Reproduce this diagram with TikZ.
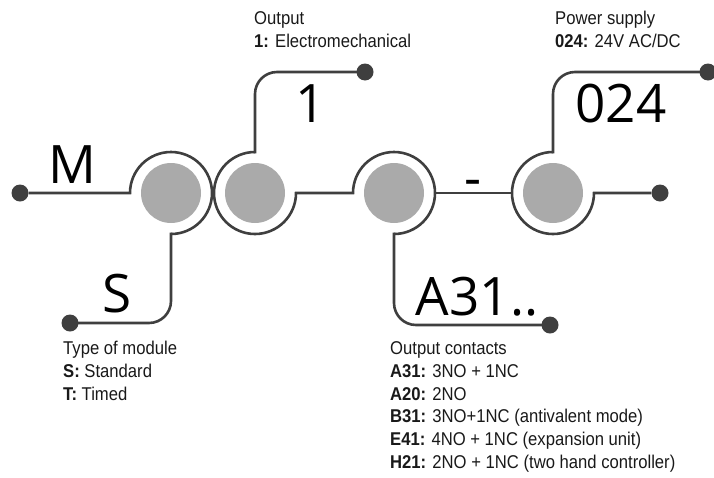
\documentclass[tikz,border=0pt]{standalone}
\usepackage{fontspec}
\setmainfont{Liberation Sans}[FakeStretch=0.9]
\newfontfamily\codefont{Open Sans}
\usepackage{tikz}
\usepackage{xcolor}

\definecolor{wiregrey}{HTML}{3F3F3F}
\definecolor{discgrey}{HTML}{AAAAAA}

\tikzset{
  wire/.style={draw=wiregrey, line width=2.6pt},
  leg/.style={wire, rounded corners=22pt, line cap=rect},
  dot/.style={circle, fill=wiregrey, inner sep=0pt, minimum size=17pt},
  ring/.style={circle, minimum size=82pt, inner sep=0pt, outer sep=0pt},
  code/.style={font=\codefont\fontsize{53}{60}\selectfont, inner sep=0pt, anchor=base},
  note/.style={font=\fontsize{18.5}{22.8}\selectfont, align=left, inner sep=0pt, anchor=base west, text=black!90}
}

\begin{document}
\begin{tikzpicture}[x=1pt, y=1pt]
  \useasboundingbox (0,0) rectangle (714,-477);

  % Rings
  \node[ring] (typ)  at (171,-193) {};
  \node[ring] (outp) at (255,-193) {};
  \node[ring] (cont) at (394,-193) {};
  \node[ring] (pwr)  at (553,-193) {};
  \foreach \r in {typ,outp,cont,pwr}
    \fill[discgrey] (\r) circle[radius=30pt];

  % Dots
  \node[dot] (mdot) at (20,-193) {};
  \node[dot] (sdot) at (70,-323) {};
  \node[dot] (odot) at (365,-72) {};
  \node[dot] (cdot) at (550,-325) {};
  \node[dot] (pdot) at (708,-72) {};
  \node[dot] (edot) at (660,-193) {};

  % Wires
  \draw[wire] (mdot) -- (typ.west) arc[start angle=180, end angle=-90, radius=41pt];
  \draw[wire] (outp.north) arc[start angle=90, end angle=360, radius=41pt] -- (cont.west)
    arc[start angle=180, end angle=-90, radius=41pt];
  \draw[wire] (cont.east) -- (pwr.west);
  \draw[wire] (pwr.north) arc[start angle=90, end angle=360, radius=41pt] -- (edot);

  % Legs
  \draw[leg] (typ.south) -- (typ.south |- sdot) -- (sdot);
  \draw[leg] (outp.north) -- (outp.north |- odot) -- (odot);
  \draw[leg] (cont.south) -- (cont.south |- cdot) -- (cdot);
  \draw[leg] (pwr.north) -- (pwr.north |- pdot) -- (pdot);

  % Codes
  \node[code] (mcode) at (72,-183) {M};
  \node[code] (scode) at (117,-312) {S};
  \node[code] (ocode) at (311,-122) {1};
  \node[code] (dash)  at (473,-196.5) {-};
  \node[code] (pcode) at (621,-122) {024};
  \node[code] (ccode) at (477,-315) {A31..};

  % Notes (base is the last line)
  \node[note] (onote) at (254,-47.5) {Output\\\textbf{1:} Electromechanical};
  \node[note] (pnote) at (555,-47.5) {Power supply\\\textbf{024:} 24V AC/DC};
  \node[note] (tnote) at (63,-400.5) {Type of module\\\textbf{S:} Standard\\\textbf{T:} Timed};
  \node[note] (cnote) at (390,-468.5) {Output contacts\\\textbf{A31:} 3NO + 1NC\\\textbf{A20:} 2NO\\
    \textbf{B31:} 3NO+1NC (antivalent mode)\\\textbf{E41:} 4NO + 1NC (expansion unit)\\
    \textbf{H21:} 2NO + 1NC (two hand controller)};
\end{tikzpicture}
\end{document}
